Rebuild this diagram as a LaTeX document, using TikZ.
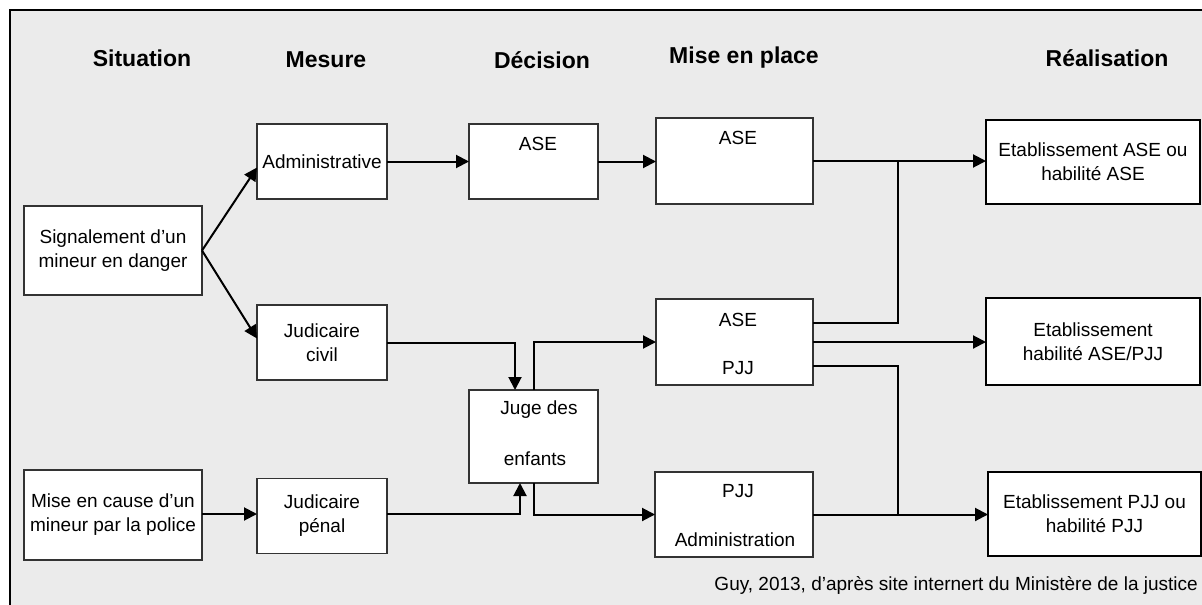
\documentclass[tikz,border=0pt]{standalone}
\usepackage{fontspec}
\setmainfont{Liberation Sans}
\usetikzlibrary{arrows.meta,calc}
\definecolor{bg}{RGB}{235,235,235}
\begin{document}
\begin{tikzpicture}[x=1pt,y=-1pt,
  box/.style={draw=black!80,line width=1.3pt,fill=white,inner sep=0pt,outer sep=0pt,align=center,font=\fontsize{19}{24}\selectfont},
  rbox/.style={box,draw=black,line width=2pt},
  hdr/.style={font=\fontsize{23}{28}\selectfont\bfseries,inner sep=0pt},
  txt/.style={font=\fontsize{19}{24}\selectfont,inner sep=0pt},
  arr/.style={line width=2pt,-{Triangle[length=13pt,width=13pt]}},
  ln/.style={line width=2pt}]
\useasboundingbox (0,0) rectangle (1202,605);
\clip (0,0) rectangle (1202,605);
\fill[white] (0,0) rectangle (1202,605);
\draw[line width=2.5pt,fill=bg] (10,10) rectangle (1215,620);

% headers
\node[hdr] (h1) at (142,58) {Situation};
\node[hdr] (h2) at (326,60) {Mesure};
\node[hdr] (h3) at (542,60) {Décision};
\node[hdr] (h4) at (744,58) {Mise en place};
\node[hdr] (h5) at (1107,58) {Réalisation};

% boxes
\node[box,minimum width=178pt,minimum height=89pt] (sig) at (113,250.5) {Signalement d’un\\mineur en danger};
\node[box,minimum width=178pt,minimum height=90pt] (cause) at (113,515) {Mise en cause d’un\\mineur par la police};
\node[box,minimum width=130pt,minimum height=75pt] (adm) at (322,161.5) {Administrative};
\node[box,minimum width=130pt,minimum height=75pt] (civ) at (322,342.5) {Judicaire\\civil};
\node[box,minimum width=130pt,minimum height=75pt] (pen) at (322,516) {Judicaire\\pénal};
\node[box,minimum width=129pt,minimum height=75pt] (dase) at (533.5,161.5) {};
\node[box,minimum width=129pt,minimum height=93pt] (juge) at (533.5,436.5) {};
\node[box,minimum width=157pt,minimum height=86pt] (mase) at (734.5,161) {};
\node[box,minimum width=157pt,minimum height=86pt] (mboth) at (734.5,342) {};
\node[box,minimum width=158pt,minimum height=85pt] (mpjj) at (734,514.5) {};
\node[rbox,minimum width=214pt,minimum height=84pt] (r1) at (1093,162) {Etablissement ASE ou\\habilité ASE};
\node[rbox,minimum width=214pt,minimum height=87pt] (r2) at (1093,341.5) {Etablissement\\habilité ASE/PJJ};
\node[rbox,minimum width=213pt,minimum height=84pt] (r3) at (1094.5,514) {Etablissement PJJ ou\\habilité PJJ};

% texts inside boxes
\node[txt] (t1) at (538,144) {ASE};
\node[txt] (t2) at (738,138) {ASE};
\node[txt] (t3) at (738,320) {ASE};
\node[txt] (t4) at (738,368) {PJJ};
\node[txt] (t5) at (539,410) {Juge des};
\node[txt] (t6) at (535,459) {enfants};
\node[txt] (t7) at (738,491) {PJJ};
\node[txt] (t8) at (735,540) {Administration};

% footer
\node[txt,anchor=east] (foot) at (1198,585) {Guy, 2013, d’après site internert du Ministère de la justice};

% connectors
\coordinate (j1) at (898,162);
\coordinate (j2) at (898,514.5);
\draw[arr] (sig.east) -- ($(adm.west)+(0,6)$);
\draw[arr] (sig.east) -- ($(civ.west)+(0,-4)$);
\draw[arr] (adm.east) -- (dase.west);
\draw[arr] (dase.east) -- (dase.east -| mase.west);
\draw[arr] (mase.east) -- (mase.east -| r1.west);
\draw[ln] ($(mboth.east)+(0,-19)$) -| (j1);
\draw[arr] (mboth.east) -- (mboth.east -| r2.west);
\draw[ln] ($(mboth.east)+(0,24)$) -| (j2);
\draw[arr] (mpjj.east) -- (mpjj.east -| r3.west);
\draw[arr] (civ.east) -| ($(juge.north west)+(46,0)$);
\draw[arr] ($(pen.east)+(0,-2)$) -| ($(juge.south west)+(51,0)$);
\draw[arr] (juge.north) |- (mboth.west);
\draw[arr] (juge.south) |- (mpjj.west);
\draw[arr] (cause.east |- pen.west) ++(0,-2) -- ($(pen.west)+(0,-2)$);
\end{tikzpicture}
\end{document}
